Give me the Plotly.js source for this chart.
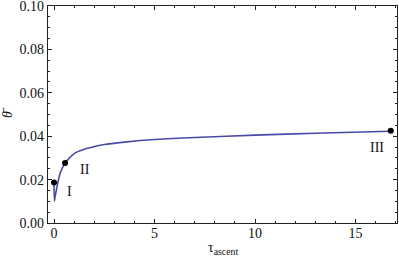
<!DOCTYPE html>
<html>
<head>
<meta charset="utf-8">
<script src="https://cdn.plot.ly/plotly-3.0.1.min.js"></script>
<style>html,body{margin:0;padding:0;background:#fff;}#chart{width:399px;height:259px;}</style>
</head>
<body>
<div id="chart"></div>
<script>
var curveX = [0, 0.02, 0.06, 0.13, 0.3, 0.55, 1.0, 1.5, 2.0, 2.5, 3.5, 5, 7, 10, 13, 16.7];
var curveY = [0.0187, 0.0102, 0.0125, 0.0158, 0.0228, 0.0276, 0.032, 0.0340, 0.0352, 0.0362, 0.0373, 0.0385, 0.0394, 0.0405, 0.0414, 0.0423];
var pointX = [0, 0.55, 16.75];
var pointY = [0.0187, 0.0276, 0.0425];
var pointLabels = ["I", "II", "III"];
var labelX = [0.75, 1.54, 16.07];
var labelY = [0.0146, 0.0246, 0.0349];
var xTicks = [0, 5, 10, 15];
var yTicks = [0, 0.02, 0.04, 0.06, 0.08, 0.10];
var yTickText = ["0.00", "0.02", "0.04", "0.06", "0.08", "0.10"];
var xTitle = "τ<sub>ascent</sub>";
var yTitle = "<i>θ̄</i>";

var font = "Liberation Serif";
var traces = [
  {x: curveX, y: curveY, mode: "lines", line: {color: "#4a4aa6", width: 1.6, shape: "spline", smoothing: 0.8}, hoverinfo: "skip", cliponaxis: false},
  {x: pointX, y: pointY, mode: "markers", marker: {color: "#000", size: 6}, hoverinfo: "skip", cliponaxis: false}
];
var annotations = pointLabels.map(function(t, i) {
  return {x: labelX[i], y: labelY[i], xref: "x", yref: "y", text: t, showarrow: false, font: {family: font, size: 14, color: "#111"}};
});
annotations.push({
  x: 0.5, xref: "paper", y: 0, yref: "paper", yanchor: "top", yshift: -16, borderpad: 0,
  text: xTitle, showarrow: false, font: {family: font, size: 14, color: "#111"}
});
var axisCommon = {
  showgrid: false, zeroline: false, showline: true, linecolor: "#222", linewidth: 1.3, mirror: "allticks",
  ticks: "inside", ticklen: 4, tickwidth: 1, tickcolor: "#222", ticklabeloverflow: "allow",
  tickfont: {family: font, size: 14, color: "#111"}
};
var layout = {
  width: 399, height: 259,
  margin: {l: 48, r: 2, t: 6, b: 36},
  paper_bgcolor: "#fff", plot_bgcolor: "#fff",
  showlegend: false,
  font: {family: font},
  xaxis: Object.assign({}, axisCommon, {
    range: [-0.3, 17.06], tickvals: xTicks, ticktext: xTicks.map(String),
    ticklabelstandoff: -3,
    minor: {dtick: 1, tick0: 0, ticks: "inside", ticklen: 2, tickcolor: "#222", tickwidth: 1}
  }),
  yaxis: Object.assign({}, axisCommon, {
    range: [0, 0.10002], tickvals: yTicks, ticktext: yTickText,
    minor: {dtick: 0.005, tick0: 0, ticks: "inside", ticklen: 2, tickcolor: "#222", tickwidth: 1},
    title: {text: yTitle, font: {family: font, size: 14, color: "#111"}, standoff: 6}
  }),
  annotations: annotations
};
Plotly.newPlot("chart", traces, layout, {displayModeBar: false, staticPlot: true});
</script>
</body>
</html>
